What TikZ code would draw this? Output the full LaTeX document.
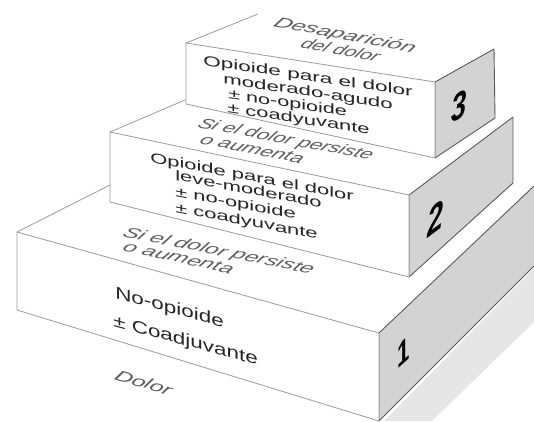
\documentclass[tikz,border=0pt]{standalone}
\usepackage{fontspec}
\setmainfont{Liberation Sans}
\definecolor{sidegray}{HTML}{D3D3D3}
\definecolor{edgegray}{HTML}{9A9A9A}
\definecolor{darkedge}{HTML}{5A5A5A}
\definecolor{txtc}{HTML}{262626}
\definecolor{itxtc}{HTML}{5E5E5E}
\definecolor{shadowc}{HTML}{E6E6E6}
\begin{document}
\begin{tikzpicture}[x=1pt,y=-1pt,
  front/.style={fill=white,draw=edgegray,line width=0.8pt,line join=round},
  sidefill/.style={fill=sidegray},
  sideline/.style={draw=darkedge,line width=0.9pt,line join=round},
  edge/.style={draw=edgegray,line width=0.8pt},
  ftxt/.style={inner sep=0pt,anchor=base west,text=txtc,font=\fontsize{16}{16}\selectfont},
  itxt/.style={inner sep=0pt,anchor=base west,text=itxtc,font=\fontsize{16}{16}\selectfont\itshape},
  num/.style={inner sep=0pt,text=black,font=\fontsize{38}{38}\selectfont\bfseries\itshape}]
\useasboundingbox (0,0) rectangle (534,421);
% corners
\coordinate (a1) at (17,232); \coordinate (b1) at (379,333);
\coordinate (c1) at (379,421); \coordinate (d1) at (17,310);
\coordinate (e1) at (534,186); \coordinate (f1) at (534,266);
\coordinate (g1) at (110,185);
\coordinate (a2) at (110,132); \coordinate (b2) at (409,195);
\coordinate (c2) at (409,277); \coordinate (d2) at (110,202);
\coordinate (e2) at (513,117); \coordinate (f2) at (513,183);
\coordinate (g2) at (185,100);
\coordinate (a3) at (186,43); \coordinate (b3) at (435,82);
\coordinate (c3) at (435,158); \coordinate (d3) at (186,104);
\coordinate (e3) at (494,49); \coordinate (f3) at (495,118);
\coordinate (g3) at (258,14);
\coordinate (s1) at (384,421); \coordinate (s2) at (534,268);
\coordinate (s3) at (534,322); \coordinate (s4) at (432,421);
% shadow
\fill[shadowc] (s1) -- (s2) -- (s3) -- (s4) -- cycle;
% block 1
\fill[sidefill] (b1) -- (e1) -- (f1) -- (c1) -- cycle;
\draw[sideline] (e1) -- (b1) -- (c1) -- (f1);
\draw[front] (a1) -- (b1) -- (c1) -- (d1) -- cycle;
\draw[edge] (a1) -- (g1);
% block 2
\fill[sidefill] (b2) -- (e2) -- (f2) -- (c2) -- cycle;
\draw[sideline] (b2) -- (e2) -- (f2) -- (c2) -- cycle;
\draw[front] (a2) -- (b2) -- (c2) -- (d2) -- cycle;
\draw[edge] (a2) -- (g2);
% block 3
\fill[sidefill] (b3) -- (e3) -- (f3) -- (c3) -- cycle;
\draw[sideline] (b3) -- (e3) -- (f3) -- (c3) -- cycle;
\draw[front] (a3) -- (b3) -- (c3) -- (d3) -- cycle;
\draw[edge] (a3) -- (g3);
% block 3 texts
\node[itxt,yslant=-0.19,xslant=0.6,xscale=1.5,yscale=0.95] (t3e) at (272,26) {Desaparición};
\node[itxt,yslant=-0.19,xslant=0.6,xscale=1.25,yscale=0.95] (t3f) at (299,47) {del dolor};
\node[ftxt,yslant=-0.15,xscale=1.41,yscale=0.88] (t3a) at (203,65) {Opioide para el dolor};
\node[ftxt,yslant=-0.15,xscale=1.39,yscale=0.88] (t3b) at (223,83.5) {moderado-agudo};
\node[ftxt,yslant=-0.15,xscale=1.35,yscale=0.88] (t3c) at (228,98.5) {± no-opioide};
\node[ftxt,yslant=-0.15,xscale=1.37,yscale=0.88] (t3d) at (227,112.5) {± coadyuvante};
% block 2 texts
\node[itxt,yslant=-0.19,xslant=0.6,xscale=1.32,yscale=0.95] (t2e) at (196,127) {Si el dolor persiste};
\node[itxt,yslant=-0.2,xslant=0.6,xscale=1.35,yscale=0.95] (t2f) at (198,143) {o aumenta};
\node[ftxt,yslant=-0.19,xscale=1.37,yscale=0.88] (t2a) at (150,162) {Opioide para el dolor};
\node[ftxt,yslant=-0.19,xscale=1.37,yscale=0.88] (t2b) at (175,180) {leve-moderado};
\node[ftxt,yslant=-0.19,xscale=1.37,yscale=0.88] (t2c) at (175,196) {± no-opioide};
\node[ftxt,yslant=-0.19,xscale=1.37,yscale=0.88] (t2d) at (175,212) {± coadyuvante};
% block 1 texts
\node[itxt,yslant=-0.2,xslant=0.6,xscale=1.44,yscale=0.95] (t1e) at (121,236) {Si el dolor persiste};
\node[itxt,yslant=-0.22,xslant=0.6,xscale=1.44,yscale=0.95] (t1f) at (121,250) {o aumenta};
\node[ftxt,yslant=-0.27,xscale=1.32,yscale=1.0,font=\fontsize{17}{17}\selectfont] (t1a) at (115,298) {No-opioide};
\node[ftxt,yslant=-0.27,xscale=1.32,yscale=1.0,font=\fontsize{17}{17}\selectfont] (t1b) at (113,326) {± Coadjuvante};
% floor
\node[itxt,yslant=-0.3,xslant=0.5,xscale=1.45,yscale=1.0] (fl) at (113,379) {Dolor};
% numbers
\node[num,yslant=0.55,xscale=0.72] (n3) at (459,106) {3};
\node[num,yslant=0.75,xscale=0.72,font=\fontsize{40}{40}\selectfont\bfseries\itshape] (n2) at (435,219) {2};
\node[num,yslant=0.9,xscale=0.65,font=\fontsize{34}{34}\selectfont\bfseries] (n1) at (404,352) {1};
\end{tikzpicture}
\end{document}
